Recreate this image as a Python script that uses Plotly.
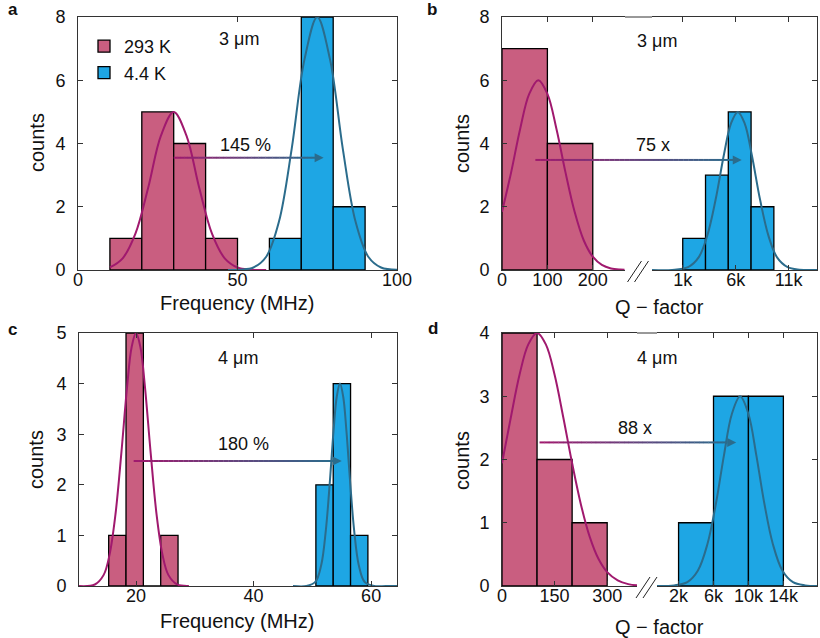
import plotly.graph_objects as go

W, H = 820, 638
FONT = "Liberation Sans, Arial, Helvetica, sans-serif"

RED_BAR = "#C95E80"
BLUE_BAR = "#1EA6E4"
RED_LINE = (160, 25, 110)
BLUE_LINE = (43, 108, 140)

# ---------------- data ----------------
# panel a: 3 um, frequency (MHz)
a_red_edges = [10, 20, 30, 40, 50]
a_red_counts = [1, 5, 4, 1]
a_blue_edges = [60, 70, 80, 90]
a_blue_counts = [1, 8, 2]
a_red_fit_x = [10, 14, 18, 22, 26, 30, 34, 38, 42, 46, 50, 54, 59]
a_red_fit_y = [0.08, 0.37, 1.15, 2.60, 4.25, 5.0, 4.25, 2.60, 1.15, 0.37, 0.08, 0.01, 0.0]
a_blue_fit_x = [47, 51, 55, 59, 63, 67, 71, 75, 79, 83, 87, 91, 95, 100]
a_blue_fit_y = [0.0, 0.01, 0.08, 0.42, 1.53, 3.84, 6.66, 8.0, 6.66, 3.84, 1.53, 0.42, 0.08, 0.01]

# panel b: 3 um, Q-factor (left part: raw, right part: thousands)
b_red_edges = [0, 100, 200]
b_red_counts = [7, 4]
b_blue_edges_k = [1, 3.15, 5.3, 7.45, 9.6]
b_blue_counts = [1, 3, 5, 2]
b_red_fit_x = [0, 20, 40, 60, 80, 100, 120, 140, 160, 180, 200, 220, 240, 260, 270]
b_red_fit_y = [1.84, 3.08, 4.46, 5.57, 6.0, 5.57, 4.46, 3.08, 1.84, 0.94, 0.42, 0.16, 0.05, 0.015, 0.01]
b_blue_fit_x = [-1.9, 0, 1.5, 2.5, 3.3, 4.1, 4.9, 5.55, 6.2, 6.85, 7.5, 8.3, 9.1, 9.9, 10.9, 12, 13.67]
b_blue_fit_y = [0, 0, 0.09, 0.40, 1.07, 2.22, 3.67, 4.63, 5.0, 4.63, 3.67, 2.22, 1.07, 0.40, 0.09, 0.01, 0]

# panel c: 4 um, frequency (MHz)
c_red_edges = [15.35, 18.3, 21.25, 24.2, 27.15]
c_red_counts = [1, 5, 0, 1]
c_blue_edges = [50.6, 53.55, 56.5, 59.45]
c_blue_counts = [2, 4, 1]
c_red_fit_x = [10.3, 13, 14.5, 15.5, 16.5, 17.5, 18.5, 19.25, 20, 20.75, 21.5, 22.5, 23.5, 24.5, 25.5, 27, 29]
c_red_fit_y = [0, 0.03, 0.22, 0.62, 1.41, 2.62, 3.96, 4.72, 5.0, 4.72, 3.96, 2.62, 1.41, 0.62, 0.22, 0.03, 0]
c_blue_fit_x = [46.7, 49, 50.5, 51.5, 52.3, 53, 53.6, 54.15, 54.7, 55.25, 55.8, 56.4, 57.1, 57.9, 58.9, 60.5, 62.5, 64.4]
c_blue_fit_y = [0, 0, 0.08, 0.41, 1.11, 2.10, 3.06, 3.74, 4.0, 3.74, 3.06, 2.10, 1.11, 0.41, 0.08, 0, 0, 0]

# panel d: 4 um, Q-factor
d_red_edges = [0, 100, 200, 300]
d_red_counts = [4, 2, 1]
d_blue_edges_k = [2, 6, 10, 14]
d_blue_counts = [1, 3, 3]
d_red_fit_x = [0, 25, 50, 75, 100, 125, 150, 175, 200, 225, 250, 275, 300, 330, 360, 385]
d_red_fit_y = [1.94, 2.66, 3.34, 3.82, 4.0, 3.82, 3.34, 2.66, 1.94, 1.29, 0.78, 0.43, 0.22, 0.09, 0.03, 0.01]
d_blue_fit_x = [-0.47, 1.5, 3, 4.2, 5.3, 6.3, 7.2, 8.1, 9.05, 10, 10.9, 11.8, 12.8, 13.9, 15.1, 16.5, 17.85]
d_blue_fit_y = [0, 0.01, 0.06, 0.24, 0.66, 1.32, 2.07, 2.72, 3.0, 2.72, 2.07, 1.32, 0.66, 0.24, 0.06, 0.01, 0]

# tick labels
a_xticks = [0, 50, 100]
b_left_ticks = [0, 100, 200]
b_right_ticks = [1, 6, 11]
b_right_labels = ["1k", "6k", "11k"]
c_xticks = [20, 40, 60]
d_left_ticks = [0, 150, 300]
d_right_ticks = [2, 6, 10, 14]
d_right_labels = ["2k", "6k", "10k", "14k"]

# annotation values (arrows: tail x, head x, y)
a_arrow = (30, 77, 3.55)
b_arrow = (73.5, 6.57, 3.48)
c_arrow = (19.6, 55.0, 2.47)
d_arrow = (107, 8.6, 2.27)

# ---------------- layout geometry (pixels) ----------------
TOP_Y = (17, 270)
BOT_Y = (333, 586)
AX = {
    "x":  dict(px=(78, 397), rng=(0, 100), row=TOP_Y),
    "x2": dict(px=(502, 625), rng=(0, 271), row=TOP_Y),
    "x3": dict(px=(652, 817), rng=(-1.9, 13.67), row=TOP_Y),
    "x4": dict(px=(79, 397), rng=(10.3, 64.4), row=BOT_Y),
    "x5": dict(px=(502, 637), rng=(0, 385), row=BOT_Y),
    "x6": dict(px=(657, 817), rng=(-0.47, 17.85), row=BOT_Y),
}
YR = {"y": (0, 8), "y2": (0, 8), "y3": (0, 8), "y4": (0, 5), "y5": (0, 4), "y6": (0, 4)}


def px_x(p):
    return p / W


def px_y(p):
    return 1 - p / H


def data_to_px_x(ax, v):
    a = AX[ax]
    r0, r1 = a["rng"]
    return a["px"][0] + (v - r0) / (r1 - r0) * (a["px"][1] - a["px"][0])


def data_to_px_y(ax, v):
    row = AX[ax]["row"]
    r0, r1 = YR[ax.replace("x", "y")]
    return row[1] - (v - r0) / (r1 - r0) * (row[1] - row[0])


fig = go.Figure()


def add_hist(edges, counts, color, ax, name=None, legend=False):
    centers = [(edges[i] + edges[i + 1]) / 2 for i in range(len(counts))]
    widths = [edges[i + 1] - edges[i] for i in range(len(counts))]
    fig.add_trace(go.Bar(
        x=centers, y=counts, width=widths, name=name,
        marker=dict(color=color, line=dict(color="black", width=1.3)),
        xaxis=ax, yaxis=ax.replace("x", "y"), showlegend=legend,
        legendgroup=name if legend else None,
    ))


def add_fit(xs, ys, rgb, ax):
    fig.add_trace(go.Scatter(
        x=xs, y=ys, mode="lines",
        line=dict(color="rgb(%d,%d,%d)" % rgb, width=2, shape="spline", smoothing=1),
        xaxis=ax, yaxis=ax.replace("x", "y"), showlegend=False, hoverinfo="skip",
    ))


add_hist(a_red_edges, a_red_counts, RED_BAR, "x", "293 K", True)
add_hist(a_blue_edges, a_blue_counts, BLUE_BAR, "x", "4.4 K", True)
add_fit(a_red_fit_x, a_red_fit_y, RED_LINE, "x")
add_fit(a_blue_fit_x, a_blue_fit_y, BLUE_LINE, "x")

add_hist(b_red_edges, b_red_counts, RED_BAR, "x2")
add_hist(b_blue_edges_k, b_blue_counts, BLUE_BAR, "x3")
add_fit(b_red_fit_x, b_red_fit_y, RED_LINE, "x2")
add_fit(b_blue_fit_x, b_blue_fit_y, BLUE_LINE, "x3")

add_hist(c_red_edges, c_red_counts, RED_BAR, "x4")
add_hist(c_blue_edges, c_blue_counts, BLUE_BAR, "x4")
add_fit(c_red_fit_x, c_red_fit_y, RED_LINE, "x4")
add_fit(c_blue_fit_x, c_blue_fit_y, BLUE_LINE, "x4")

add_hist(d_red_edges, d_red_counts, RED_BAR, "x5")
add_hist(d_blue_edges_k, d_blue_counts, BLUE_BAR, "x6")
add_fit(d_red_fit_x, d_red_fit_y, RED_LINE, "x5")
add_fit(d_blue_fit_x, d_blue_fit_y, BLUE_LINE, "x6")

tickfont = dict(size=18, color="#111", family=FONT)
LINE = "#333"

layout = dict(
    width=W, height=H, margin=dict(l=0, r=0, t=0, b=0, pad=0, autoexpand=False),
    paper_bgcolor="white", plot_bgcolor="white",
    barmode="overlay", font=dict(family=FONT, color="#111"),
    showlegend=True,
    legend=dict(x=px_x(84), y=px_y(28), xanchor="left", yanchor="top",
                font=dict(size=18, family=FONT, color="#111"),
                bgcolor="rgba(0,0,0,0)", tracegroupgap=5, traceorder="normal"),
)


def xaxis(name, tickvals, ticktext=None, mirror="ticks"):
    a = AX[name]
    d = dict(domain=[px_x(a["px"][0]), px_x(a["px"][1])], range=list(a["rng"]),
             anchor=name.replace("x", "y"), showline=True, linecolor=LINE, linewidth=1,
             mirror=mirror, ticks="inside", ticklen=5, tickcolor=LINE, tickwidth=1,
             showgrid=False, zeroline=False, tickvals=tickvals, tickfont=tickfont,
             ticklabelstandoff=-7, automargin=False)
    if ticktext is not None:
        d["ticktext"] = ticktext
    return d


def yaxis(name, dtick, side="left", mirror="ticks", labels=True, matches=None):
    row = AX[name.replace("y", "x")]["row"]
    d = dict(domain=[px_y(row[1]), px_y(row[0])], range=list(YR[name]),
             anchor=name.replace("y", "x"), side=side, showline=True, linecolor=LINE,
             linewidth=1, mirror=mirror, ticks="inside", ticklen=5, tickcolor=LINE,
             tickwidth=1, showgrid=False, zeroline=False, dtick=dtick, tick0=0,
             tickfont=tickfont, showticklabels=labels, ticklabelstandoff=8, automargin=False)
    if matches:
        d["matches"] = matches
    return d


layout["xaxis"] = xaxis("x", a_xticks)
layout["yaxis"] = yaxis("y", 2)
layout["xaxis2"] = xaxis("x2", b_left_ticks)
layout["yaxis2"] = yaxis("y2", 2, mirror=False)
layout["xaxis3"] = xaxis("x3", b_right_ticks, b_right_labels)
layout["yaxis3"] = yaxis("y3", 2, side="right", mirror=False, labels=False)
layout["xaxis4"] = xaxis("x4", c_xticks)
layout["yaxis4"] = yaxis("y4", 1)
layout["xaxis5"] = xaxis("x5", d_left_ticks)
layout["yaxis5"] = yaxis("y5", 1, mirror=False)
layout["xaxis6"] = xaxis("x6", d_right_ticks, d_right_labels)
layout["yaxis6"] = yaxis("y6", 1, side="right", mirror=False, labels=False)

fig.update_layout(**layout)

shapes = []
annotations = []


def gradient_arrow(x0p, x1p, yp, n=40):
    head_len, head_half = 9, 4.5
    xs_end = x1p - head_len
    for i in range(n):
        t0 = i / n
        t1 = (i + 1) / n
        tm = (t0 + t1) / 2
        c = tuple(int(round(RED_LINE[k] + (BLUE_LINE[k] - RED_LINE[k]) * tm)) for k in range(3))
        shapes.append(dict(type="line", xref="paper", yref="paper",
                           x0=px_x(x0p + (xs_end - x0p) * t0), x1=px_x(x0p + (xs_end - x0p) * t1 + 0.3),
                           y0=px_y(yp), y1=px_y(yp),
                           line=dict(color="rgb(%d,%d,%d)" % c, width=2)))
    path = "M %f,%f L %f,%f L %f,%f Z" % (
        px_x(x1p), px_y(yp), px_x(xs_end), px_y(yp - head_half), px_x(xs_end), px_y(yp + head_half))
    shapes.append(dict(type="path", xref="paper", yref="paper", path=path,
                       fillcolor="rgb(%d,%d,%d)" % BLUE_LINE, line=dict(width=0)))


gradient_arrow(data_to_px_x("x", a_arrow[0]), data_to_px_x("x", a_arrow[1]), data_to_px_y("x", a_arrow[2]))
gradient_arrow(data_to_px_x("x2", b_arrow[0]), data_to_px_x("x3", b_arrow[1]), data_to_px_y("x2", b_arrow[2]))
gradient_arrow(data_to_px_x("x4", c_arrow[0]), data_to_px_x("x4", c_arrow[1]), data_to_px_y("x4", c_arrow[2]))
gradient_arrow(data_to_px_x("x5", d_arrow[0]), data_to_px_x("x6", d_arrow[1]), data_to_px_y("x5", d_arrow[2]))

# continuous top frame across the axis breaks + break marks
for L, R in (("x2", "x3"), ("x5", "x6")):
    top = AX[L]["row"][0]
    base = AX[L]["row"][1]
    shapes.append(dict(type="line", xref="paper", yref="paper",
                       x0=px_x(AX[L]["px"][1]), x1=px_x(AX[R]["px"][0]),
                       y0=px_y(top), y1=px_y(top), line=dict(color=LINE, width=1)))
    gx = (AX[L]["px"][1] + AX[R]["px"][0]) / 2
    for off in (-4, 3):
        shapes.append(dict(type="line", xref="paper", yref="paper",
                           x0=px_x(gx + off - 7), x1=px_x(gx + off + 7),
                           y0=px_y(base + 12), y1=px_y(base - 9),
                           line=dict(color="#222", width=1)))


def text(xp, yp, s, size=18, angle=0, bold=False):
    annotations.append(dict(xref="paper", yref="paper", x=px_x(xp), y=px_y(yp), text=("<b>%s</b>" % s) if bold else s,
                            showarrow=False, xanchor="center", yanchor="middle", textangle=angle,
                            font=dict(size=size, family=FONT, color="#111")))


# in-plot labels
text(data_to_px_x("x", 52.5), data_to_px_y("x", 3.95), "145 %")
text(data_to_px_x("x", 50.5), data_to_px_y("x", 7.3), "3 μm")
text(653, data_to_px_y("x2", 3.94), "75 x")
text(657, data_to_px_y("x2", 7.25), "3 μm")
text(data_to_px_x("x4", 38.3), data_to_px_y("x4", 2.81), "180 %")
text(data_to_px_x("x4", 37.3), data_to_px_y("x4", 4.5), "4 μm")
text(635, data_to_px_y("x5", 2.5), "88 x")
text(657, data_to_px_y("x5", 3.6), "4 μm")

# axis titles
text(37, 143, "counts", size=20, angle=-90)
text(462, 143, "counts", size=20, angle=-90)
text(36, 460, "counts", size=20, angle=-90)
text(462, 460, "counts", size=20, angle=-90)
text(237, 303, "Frequency (MHz)", size=20)
text(237, 621, "Frequency (MHz)", size=20)
text(659, 307, "Q − factor", size=20)
text(659, 627, "Q − factor", size=20)

# panel letters
text(13, 10, "a", size=17, bold=True)
text(432, 9, "b", size=17, bold=True)
text(12, 329, "c", size=17, bold=True)
text(433, 328, "d", size=17, bold=True)

fig.update_layout(shapes=shapes, annotations=annotations)
fig.write_html("out.html", config={"displayModeBar": False},
               post_script="document.body.style.margin='0';document.body.style.overflow='hidden';")
